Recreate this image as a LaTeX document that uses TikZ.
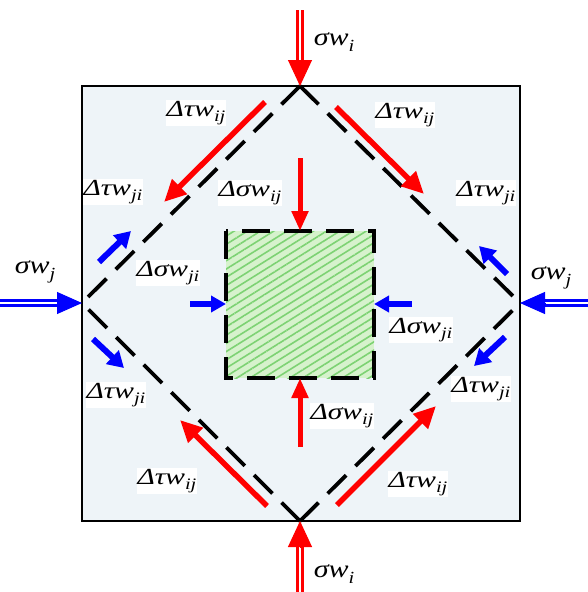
\documentclass[tikz,border=0pt]{standalone}
\usepackage{fontspec}
\setmainfont{Liberation Serif}
\usetikzlibrary{arrows.meta,patterns.meta}
\definecolor{bgblue}{RGB}{238,244,248}
\definecolor{greenfill}{RGB}{214,242,204}
\definecolor{greenline}{RGB}{125,210,115}
\definecolor{myred}{RGB}{255,0,0}
\definecolor{myblue}{RGB}{0,0,255}
\newcommand\tlab[2]{\scalebox{1.28}[1]{\fontsize{23}{25}\selectfont\itshape #1\raisebox{-0.25em}{\fontsize{16}{16}\selectfont #2}}}
\newcommand\slab[2]{\scalebox{1.2}[1]{\fontsize{25}{27}\selectfont\itshape #1\raisebox{-0.22em}{\fontsize{17}{17}\selectfont #2}}}
\begin{document}
\begin{tikzpicture}[x=1pt,y=-1pt,
  lab/.style={fill=white, inner sep=1pt},
  slabel/.style={inner sep=1pt},
  dblred/.style={draw=myred, line width=3, double=white, double distance=2},
  dblblue/.style={draw=myblue, line width=3, double=white, double distance=2},
  headred/.style={draw=myred, line width=1, -{Triangle[length=26,width=24]}},
  headblue/.style={draw=myblue, line width=1, -{Triangle[length=25,width=22]}},
  diagred/.style={draw=myred, line width=5.5, -{Triangle[length=22,width=20]}},
  vertred/.style={draw=myred, line width=5, -{Triangle[length=20,width=16]}},
  diagblue/.style={draw=myblue, line width=6, -{Triangle[length=16,width=18]}},
  horblue/.style={draw=myblue, line width=6, -{Triangle[length=15,width=16]}},
  diadash/.style={draw=black, line width=3.8, dash pattern=on 26pt off 13pt},
  sqdash/.style={draw=black, line width=3.8, dash pattern=on 28pt off 14pt}
]
\useasboundingbox (0,0) rectangle (588,592);
% outer square
\coordinate (OTL) at (82,86);
\coordinate (OBR) at (520,521);
\draw[fill=bgblue, line width=1.5] (OTL) rectangle (OBR);
% diamond vertices
\coordinate (T) at (300,86);
\coordinate (L) at (82,303);
\coordinate (R) at (520,303);
\coordinate (B) at (300,521);
\draw[diadash] (T) -- (L);
\draw[diadash] (T) -- (R);
\draw[diadash] (B) -- (L);
\draw[diadash] (B) -- (R);
% inner square
\coordinate (S1) at (226,231);
\coordinate (S2) at (374,378);
\fill[greenfill] (S1) rectangle (S2);
\fill[pattern={Lines[angle=32,distance=7pt,line width=1.6pt]}, pattern color=greenline] (S1) rectangle (S2);
\draw[sqdash] (S1) rectangle (S2);
% double arrows
\coordinate (nT0) at (300,10);  \coordinate (nT1) at (300,64); \coordinate (nT2) at (300,60);
\draw[dblred] (nT0) -- (nT1);
\draw[headred] (nT2) -- (T);
\coordinate (nB0) at (300,592); \coordinate (nB1) at (300,544); \coordinate (nB2) at (300,548);
\draw[dblred] (nB0) -- (nB1);
\draw[headred] (nB2) -- (B);
\coordinate (nL0) at (0,303); \coordinate (nL1) at (60,303); \coordinate (nL2) at (57,303);
\draw[dblblue] (nL0) -- (nL1);
\draw[headblue] (nL2) -- (L);
\coordinate (nR0) at (588,303); \coordinate (nR1) at (542,303); \coordinate (nR2) at (545,303);
\draw[dblblue] (nR0) -- (nR1);
\draw[headblue] (nR2) -- (R);
% red diagonal arrows
\coordinate (a1) at (265,102); \coordinate (a1t) at (164,202);
\coordinate (a2) at (336,107); \coordinate (a2t) at (424,194);
\coordinate (a3) at (267,506); \coordinate (a3t) at (180,420);
\coordinate (a4) at (337,505); \coordinate (a4t) at (436,406);
\draw[diagred] (a1) -- (a1t);
\draw[diagred] (a2) -- (a2t);
\draw[diagred] (a3) -- (a3t);
\draw[diagred] (a4) -- (a4t);
% blue diagonal arrows
\coordinate (b1) at (99,262);  \coordinate (b1t) at (131,231);
\coordinate (b2) at (93,339);  \coordinate (b2t) at (124,368);
\coordinate (b3) at (507,274); \coordinate (b3t) at (479,246);
\coordinate (b4) at (505,337); \coordinate (b4t) at (474,366);
\draw[diagblue] (b1) -- (b1t);
\draw[diagblue] (b2) -- (b2t);
\draw[diagblue] (b3) -- (b3t);
\draw[diagblue] (b4) -- (b4t);
% arrows onto inner square
\coordinate (h1) at (190,304); \coordinate (h1t) at (226,304);
\coordinate (h2) at (412,304); \coordinate (h2t) at (374,304);
\coordinate (v1) at (300,158); \coordinate (v1t) at (300,231);
\coordinate (v2) at (300,447); \coordinate (v2t) at (300,378);
\draw[horblue] (h1) -- (h1t);
\draw[horblue] (h2) -- (h2t);
\draw[vertred] (v1) -- (v1t);
\draw[vertred] (v2) -- (v2t);
% labels
\node[lab] (l1) at (196,113) {\tlab{Δτw}{ij}};
\node[lab] (l2) at (405,115) {\tlab{Δτw}{ij}};
\node[lab] (l3) at (113,192) {\tlab{Δτw}{ji}};
\node[lab] (l4) at (486,193) {\tlab{Δτw}{ji}};
\node[lab] (l5) at (250,193) {\tlab{Δσw}{ij}};
\node[lab] (l6) at (168,273) {\tlab{Δσw}{ji}};
\node[lab] (l7) at (421,330) {\tlab{Δσw}{ji}};
\node[lab] (l8) at (116,395) {\tlab{Δτw}{ji}};
\node[lab] (l9) at (481,389) {\tlab{Δτw}{ji}};
\node[lab] (l10) at (342,416) {\tlab{Δσw}{ij}};
\node[lab] (l11) at (167,481) {\tlab{Δτw}{ij}};
\node[lab] (l12) at (418,484) {\tlab{Δτw}{ij}};
\node[slabel] (s1) at (334,42) {\slab{σw}{i}};
\node[slabel] (s2) at (334,574) {\slab{σw}{i}};
\node[slabel] (s3) at (35,272) {\slab{σw}{j}};
\node[slabel] (s4) at (551,278) {\slab{σw}{j}};
\end{tikzpicture}
\end{document}
